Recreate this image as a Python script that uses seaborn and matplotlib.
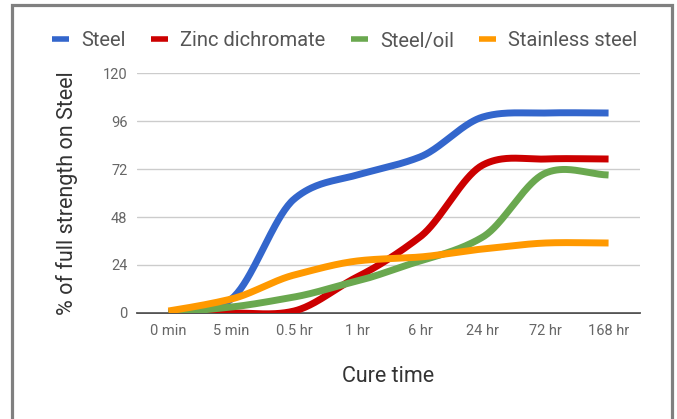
import numpy as np
import pandas as pd
import seaborn as sns
import matplotlib.pyplot as plt
from matplotlib.patches import Rectangle

sns.set_style('white')
plt.rcParams['font.family'] = ['Roboto', 'DejaVu Sans']

# data
cure_time = ['0 min', '5 min', '0.5 hr', '1 hr', '6 hr', '24 hr', '72 hr', '168 hr']
steel = [0, 7, 57, 69, 78, 98, 100, 100]
zinc_dichromate = [0, 0, 1, 18, 38, 74, 77, 77]
steel_oil = [0, 3, 8, 16, 26, 38, 70, 69]
stainless_steel = [1, 7, 19, 26, 28, 32, 35, 35]
series_names = ['Steel', 'Zinc dichromate', 'Steel/oil', 'Stainless steel']
colors = ['#3366cc', '#cc0000', '#6aa84f', '#ff9900']


# smooth curve through the points, like the sheets "smooth" option
def smooth(y, n=40, k=0.85):
    y = np.asarray(y, dtype=float)
    x = np.arange(len(y))
    m = np.gradient(y) * k
    xs, ys = [], []
    for i in range(len(y) - 1):
        t = np.linspace(0, 1, n, endpoint=False)
        h00 = 2 * t**3 - 3 * t**2 + 1
        h10 = t**3 - 2 * t**2 + t
        h01 = -2 * t**3 + 3 * t**2
        h11 = t**3 - t**2
        xs.append(x[i] + t)
        ys.append(h00 * y[i] + h10 * m[i] + h01 * y[i + 1] + h11 * m[i + 1])
    xs.append([x[-1]])
    ys.append([y[-1]])
    return np.concatenate(xs), np.concatenate(ys)


frames = []
for name, vals in zip(series_names, [steel, zinc_dichromate, steel_oil, stainless_steel]):
    xs, ys = smooth(vals)
    frames.append(pd.DataFrame({'x': xs, 'y': ys, 'series': name}))
df = pd.concat(frames, ignore_index=True)

fig = plt.figure(figsize=(6.77, 4.19), dpi=100)
ax = fig.add_axes([137 / 677, 1 - 313 / 419, (640 - 137) / 677, 240 / 419])

sns.lineplot(data=df, x='x', y='y', hue='series', hue_order=series_names,
             palette=colors, linewidth=5, ax=ax, sort=False,
             estimator=None, legend=True)
for line in ax.get_lines():
    line.set_solid_capstyle('butt')

ax.set_xlim(-0.5, 7.5)
ax.set_ylim(0, 120)
ax.set_yticks([0, 24, 48, 72, 96, 120])
ax.set_xticks(range(len(cure_time)))
ax.set_xticklabels(cure_time)
ax.grid(axis='y', color='#cccccc', linewidth=1)
ax.set_axisbelow(True)
for s in ['left', 'right', 'top']:
    ax.spines[s].set_visible(False)
ax.spines['bottom'].set_color('#333333')
ax.spines['bottom'].set_linewidth(1.2)
ax.spines['bottom'].set_zorder(0.5)
ax.tick_params(axis='both', length=0, labelsize=10.5, labelcolor='#666666')
ax.tick_params(axis='x', pad=8)
ax.tick_params(axis='y', pad=7)
ax.set_xlabel('Cure time', fontsize=15.5, color='#333333', labelpad=20)
ax.set_ylabel('% of full strength on Steel', fontsize=15.5, color='#333333', labelpad=18)

handles, labels = ax.get_legend_handles_labels()
ax.get_legend().remove()
leg = fig.legend(handles, labels, loc='center', bbox_to_anchor=(345 / 677, 1 - 41 / 419),
                 ncol=4, frameon=False, fontsize=14.5, handlelength=0.85,
                 handletextpad=0.6, columnspacing=1.25)
for h in leg.legend_handles:
    h.set_linewidth(4)
    h.set_solid_capstyle('butt')
for t in leg.get_texts():
    t.set_color('#555555')

# grey frame round the chart
fig.patches.append(Rectangle((11.5 / 677, -0.05), (671.5 - 11.5) / 677, 1.05 - 5.5 / 419,
                             transform=fig.transFigure, fill=False,
                             edgecolor='#808080', linewidth=2.3))

fig.savefig('out.png', dpi=100)
